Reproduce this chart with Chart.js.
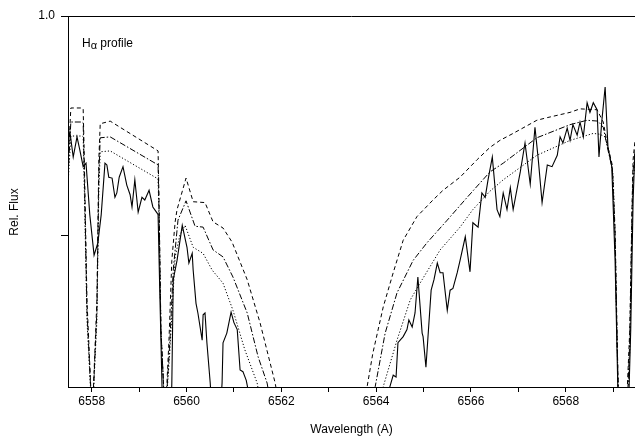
<!DOCTYPE html>
<html>
<head>
<meta charset="utf-8">
<script src="https://cdn.jsdelivr.net/npm/chart.js@4.4.0/dist/chart.umd.min.js"></script>
<style>
html, body { margin: 0; padding: 0; background: #fff; }
#wrap { width: 635px; height: 444px; }
</style>
</head>
<body>
<div id="wrap"><canvas id="halpha"></canvas></div>
<script>
// observed H-alpha spectrum: [wavelength (A), rel. flux]
const observed = [
    [6557.50, 0.858], [6557.54, 0.868], [6557.61, 0.839], [6557.69, 0.862], [6557.75, 0.847],
    [6557.82, 0.828], [6557.88, 0.832], [6557.96, 0.773], [6558.05, 0.727], [6558.13, 0.741],
    [6558.20, 0.773], [6558.28, 0.832], [6558.32, 0.830], [6558.36, 0.816], [6558.43, 0.815],
    [6558.49, 0.793], [6558.53, 0.798], [6558.58, 0.816], [6558.66, 0.828], [6558.74, 0.807],
    [6558.81, 0.796], [6558.85, 0.782], [6558.91, 0.813], [6558.98, 0.776], [6559.06, 0.793],
    [6559.12, 0.790], [6559.21, 0.801], [6559.29, 0.782], [6559.38, 0.775], [6559.40, 0.773],
    [6559.44, 0.676], [6559.50, 0.539], [6559.59, 0.516], [6559.67, 0.539], [6559.69, 0.581],
    [6559.72, 0.699], [6559.80, 0.721], [6559.91, 0.761], [6560.01, 0.736], [6560.05, 0.718],
    [6560.12, 0.729], [6560.14, 0.710], [6560.20, 0.672], [6560.24, 0.661], [6560.33, 0.630],
    [6560.35, 0.659], [6560.39, 0.661], [6560.43, 0.627], [6560.50, 0.581], [6560.56, 0.527],
    [6560.69, 0.527], [6560.75, 0.581], [6560.77, 0.627], [6560.85, 0.638], [6560.94, 0.662],
    [6561.00, 0.650], [6561.07, 0.642], [6561.13, 0.596], [6561.19, 0.594], [6561.26, 0.584],
    [6561.30, 0.573], [6561.38, 0.539], [6562.82, 0.450], [6564.19, 0.539], [6564.29, 0.577],
    [6564.36, 0.590], [6564.42, 0.588], [6564.46, 0.627], [6564.57, 0.634], [6564.65, 0.642],
    [6564.69, 0.653], [6564.76, 0.645], [6564.82, 0.661], [6564.88, 0.702], [6564.97, 0.638],
    [6564.99, 0.634], [6565.05, 0.599], [6565.16, 0.687], [6565.22, 0.699], [6565.29, 0.718],
    [6565.35, 0.707], [6565.41, 0.707], [6565.50, 0.664], [6565.56, 0.687], [6565.62, 0.689],
    [6565.71, 0.707], [6565.77, 0.721], [6565.88, 0.748], [6565.98, 0.708], [6566.04, 0.764],
    [6566.15, 0.759], [6566.23, 0.798], [6566.30, 0.793], [6566.36, 0.813], [6566.45, 0.839],
    [6566.55, 0.779], [6566.61, 0.771], [6566.68, 0.798], [6566.76, 0.779], [6566.83, 0.804],
    [6566.89, 0.779], [6567.04, 0.822], [6567.14, 0.855], [6567.25, 0.808], [6567.35, 0.873],
    [6567.42, 0.836], [6567.50, 0.787], [6567.61, 0.830], [6567.71, 0.828], [6567.82, 0.841],
    [6567.88, 0.862], [6567.94, 0.855], [6568.03, 0.872], [6568.09, 0.858], [6568.15, 0.876],
    [6568.24, 0.864], [6568.30, 0.879], [6568.37, 0.862], [6568.45, 0.901], [6568.51, 0.890],
    [6568.58, 0.901], [6568.66, 0.893], [6568.70, 0.839], [6568.76, 0.880], [6568.83, 0.919],
    [6568.89, 0.850], [6568.97, 0.828], [6569.04, 0.721], [6569.10, 0.570], [6569.16, 0.527],
    [6569.31, 0.527], [6569.37, 0.642], [6569.42, 0.790], [6569.46, 0.847]
];

// synthetic profiles
const modelDashed = [
    [6557.50, 0.830], [6557.56, 0.895], [6557.80, 0.895], [6557.82, 0.894], [6557.84, 0.847],
    [6557.90, 0.676], [6558.01, 0.539], [6558.11, 0.676], [6558.15, 0.836], [6558.18, 0.877],
    [6558.39, 0.880], [6559.40, 0.846], [6559.42, 0.790], [6559.46, 0.642], [6559.55, 0.539],
    [6559.63, 0.630], [6559.69, 0.721], [6559.76, 0.765], [6559.80, 0.779], [6559.99, 0.815],
    [6560.14, 0.788], [6560.39, 0.787], [6560.56, 0.765], [6560.77, 0.758], [6560.96, 0.742],
    [6561.28, 0.699], [6561.55, 0.650], [6561.87, 0.581], [6561.97, 0.550], [6562.82, 0.450],
    [6563.72, 0.550], [6563.81, 0.577], [6563.93, 0.615], [6564.15, 0.668], [6564.36, 0.707],
    [6564.57, 0.744], [6564.86, 0.771], [6565.20, 0.790], [6565.41, 0.801], [6565.77, 0.816],
    [6566.13, 0.836], [6566.40, 0.850], [6566.61, 0.858], [6566.89, 0.866], [6567.39, 0.881],
    [6567.61, 0.884], [6568.09, 0.890], [6568.30, 0.894], [6568.66, 0.893], [6568.79, 0.879],
    [6568.89, 0.850], [6568.98, 0.830], [6569.04, 0.756], [6569.08, 0.642], [6569.12, 0.539],
    [6569.25, 0.516], [6569.35, 0.642], [6569.40, 0.790], [6569.42, 0.836], [6569.46, 0.858]
];

const modelDashDot = [
    [6557.50, 0.818], [6557.56, 0.879], [6557.80, 0.879], [6557.82, 0.878], [6557.84, 0.830],
    [6557.90, 0.664], [6558.01, 0.539], [6558.11, 0.664], [6558.15, 0.818], [6558.18, 0.861],
    [6558.39, 0.862], [6559.40, 0.830], [6559.42, 0.779], [6559.46, 0.642], [6559.55, 0.539],
    [6559.65, 0.630], [6559.72, 0.710], [6559.82, 0.767], [6559.99, 0.789], [6560.18, 0.760],
    [6560.35, 0.759], [6560.56, 0.733], [6560.77, 0.725], [6560.98, 0.702], [6561.28, 0.661],
    [6561.51, 0.611], [6561.70, 0.581], [6561.80, 0.550], [6562.82, 0.450], [6563.83, 0.539],
    [6563.98, 0.577], [6564.19, 0.638], [6564.44, 0.684], [6564.78, 0.721], [6565.07, 0.741],
    [6565.50, 0.767], [6565.92, 0.793], [6566.40, 0.822], [6566.68, 0.832], [6567.39, 0.861],
    [6568.09, 0.876], [6568.45, 0.881], [6568.68, 0.880], [6568.79, 0.873], [6568.89, 0.847],
    [6568.98, 0.826], [6569.04, 0.750], [6569.08, 0.636], [6569.12, 0.539], [6569.27, 0.516],
    [6569.35, 0.630], [6569.40, 0.779], [6569.42, 0.824], [6569.46, 0.845]
];

const modelDotted = [
    [6557.50, 0.807], [6557.56, 0.863], [6557.80, 0.863], [6557.82, 0.862], [6557.84, 0.813],
    [6557.90, 0.653], [6558.01, 0.539], [6558.11, 0.653], [6558.15, 0.801], [6558.18, 0.845],
    [6558.39, 0.846], [6559.40, 0.814], [6559.42, 0.767], [6559.46, 0.642], [6559.55, 0.539],
    [6559.65, 0.619], [6559.76, 0.725], [6559.86, 0.750], [6559.97, 0.761], [6560.14, 0.736],
    [6560.35, 0.729], [6560.54, 0.710], [6560.77, 0.695], [6560.98, 0.664], [6561.23, 0.619],
    [6561.49, 0.581], [6561.59, 0.550], [6562.82, 0.450], [6564.04, 0.539], [6564.15, 0.577],
    [6564.44, 0.630], [6564.72, 0.676], [6564.97, 0.699], [6565.35, 0.733], [6565.77, 0.759],
    [6566.04, 0.779], [6566.40, 0.800], [6566.68, 0.813], [6567.39, 0.841], [6568.09, 0.858],
    [6568.58, 0.866], [6568.72, 0.865], [6568.83, 0.862], [6568.93, 0.841], [6569.00, 0.818],
    [6569.04, 0.744], [6569.08, 0.630], [6569.12, 0.539], [6569.29, 0.516], [6569.35, 0.619],
    [6569.40, 0.767], [6569.42, 0.813], [6569.46, 0.830]
];

const xMajorTicks = [6558, 6560, 6562, 6564, 6566, 6568];
const xMinorTicks = [6559, 6561, 6563, 6565, 6567, 6569];
const yTicks = [0.75, 1.0];
const yTickLabels = { 1.0: '1.0' };

const FONT = '"Liberation Sans", Arial, sans-serif';

function toPoints(pairs) {
    return pairs.map(p => ({ x: p[0], y: p[1] }));
}

function lineSet(label, pairs, dash, width) {
    return {
        label: label,
        data: toPoints(pairs),
        borderColor: '#000',
        borderWidth: width,
        borderDash: dash,
        pointRadius: 0,
        tension: 0,
        fill: false
    };
}

// frame top line, inner label and y axis title
const extras = {
    id: 'extras',
    afterDraw(chart) {
        const ctx = chart.ctx;
        const a = chart.chartArea;
        ctx.save();
        ctx.strokeStyle = '#000';
        ctx.lineWidth = 1;
        ctx.beginPath();
        ctx.moveTo(a.left, Math.round(a.top) + 0.5);
        ctx.lineTo(a.right, Math.round(a.top) + 0.5);
        ctx.stroke();

        ctx.fillStyle = '#000';
        ctx.textBaseline = 'alphabetic';
        let x = a.left + 14;
        const y = a.top + 31;
        ctx.font = '12px ' + FONT;
        ctx.fillText('H', x, y);
        x += ctx.measureText('H').width;
        ctx.font = '11px ' + FONT;
        ctx.fillText('α', x, y + 2);
        x += ctx.measureText('α').width;
        ctx.font = '12px ' + FONT;
        ctx.fillText(' profile', x, y);

        ctx.translate(15, 212);
        ctx.rotate(-Math.PI / 2);
        ctx.textAlign = 'center';
        ctx.textBaseline = 'middle';
        ctx.fillText('Rel. Flux', 0, 0);
        ctx.restore();
    }
};

const ctx = document.getElementById('halpha').getContext('2d');
new Chart(ctx, {
    type: 'line',
    data: {
        datasets: [
            lineSet('observed', observed, [], 1.1),
            lineSet('model 1', modelDashed, [4, 3], 1),
            lineSet('model 2', modelDashDot, [6, 2, 1.5, 2], 1),
            lineSet('model 3', modelDotted, [1.2, 2], 1)
        ]
    },
    options: {
        responsive: true,
        maintainAspectRatio: false,
        animation: false,
        layout: { padding: { top: 16, right: 0, left: 0, bottom: 0 } },
        plugins: {
            legend: { display: false },
            tooltip: { enabled: false }
        },
        scales: {
            x: {
                type: 'linear',
                min: 6557.5,
                max: 6569.46,
                afterBuildTicks: function(scale) {
                    scale.ticks = xMajorTicks.concat(xMinorTicks).sort((a, b) => a - b).map(v => ({ value: v }));
                },
                afterFit: function(scale) { scale.height = 57; },
                ticks: {
                    autoSkip: false,
                    maxRotation: 0,
                    color: '#000',
                    padding: 2,
                    font: { family: FONT, size: 12 },
                    callback: v => xMajorTicks.includes(v) ? String(v) : ''
                },
                grid: { drawOnChartArea: false, drawTicks: true, tickLength: 5, color: '#000' },
                border: { display: true, color: '#000', width: 1 },
                title: {
                    display: true,
                    text: 'Wavelength (A)',
                    color: '#000',
                    font: { family: FONT, size: 12 },
                    padding: { top: 4, bottom: 7 }
                }
            },
            y: {
                min: 0.5765,
                max: 1.0,
                afterBuildTicks: function(scale) {
                    scale.ticks = yTicks.map(v => ({ value: v }));
                },
                afterFit: function(scale) { scale.width = 68; },
                ticks: {
                    color: '#000',
                    padding: 6,
                    font: { family: FONT, size: 12 },
                    callback: v => yTickLabels[v] || ''
                },
                grid: { drawOnChartArea: false, drawTicks: true, tickLength: 7, color: '#000' },
                border: { display: true, color: '#000', width: 1 }
            }
        }
    },
    plugins: [extras]
});
</script>
</body>
</html>
